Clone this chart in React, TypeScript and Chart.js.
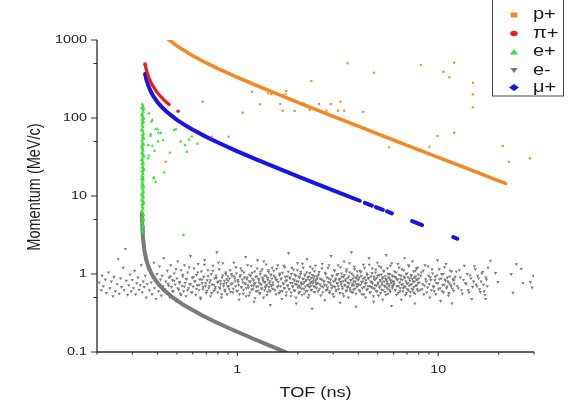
import React, { useEffect, useRef } from 'react';
import { Chart, registerables } from 'chart.js';
Chart.register(...registerables);

const X_TICKS = [0.2, 0.3, 0.4, 0.5, 0.6, 0.7, 0.8, 0.9, 1, 2, 3, 4, 5, 6, 7, 8, 9, 10, 20, 30];
const X_LABELS = [1, 10];
const Y_TICKS = [0.1, 0.5, 1, 5, 10, 50, 100, 500, 1000];
const Y_LABELS = [0.1, 1, 10, 100, 1000];
const X_TITLE = 'TOF (ns)';
const Y_TITLE = 'Momentum (MeV/c)';
const LEGEND_LABELS = ['p+', 'π+', 'e+', 'e-', 'μ+'];

const PROTON_LINE = [[0.45,1036],[0.5,840],[0.6,627],[0.7,508],[0.8,430],[1.0,332],[1.25,260],[1.5,214],[2,159],[2.5,126],[3,105],[4,78.5],[5,62.7],[7,44.7],[10,31.3],[13,24.1],[16,19.6],[19,16.5],[21.5,14.6]];
const PROTON_SCATTER = [[0.44,27.5],[0.671,162],[0.747,57.6],[0.905,57.6],[1.063,117],[1.148,292],[1.184,217],[1.299,150],[1.417,207],[1.474,203],[1.635,151],[1.684,124],[1.752,222],[1.738,201],[1.928,123],[2.138,154],[2.336,298],[2.291,127],[2.55,151],[2.777,124],[2.917,151],[3.263,162],[3.175,124],[3.401,124],[3.536,503],[4.232,120],[4.786,381],[5.706,42.1],[8.195,478],[10.63,392],[12.02,512],[11.35,332],[14.91,284],[14.87,201],[14.87,137],[12.02,64.8],[9.92,58.8],[9.05,42.9],[20.97,43.8],[22.46,27.5],[28.6,30.4],[21.8,14.3]];

const PION_LINE = [[0.347,486],[0.352,415],[0.36,344],[0.37,291],[0.38,256],[0.39,231],[0.4,211],[0.415,189],[0.43,172],[0.445,158],[0.457,149]];
const PION_SCATTER = [[0.347,490],[0.507,122]];

const MUON_MAIN = [[0.347,368],[0.352,314],[0.36,261],[0.37,220],[0.38,194],[0.4,160],[0.425,134],[0.45,117],[0.5,94.6],[0.55,80.6],[0.6,70.7],[0.7,57.3],[0.8,48.5],[1.0,37.4],[1.25,29.3],[1.5,24.1],[2,17.9],[2.5,14.2],[3,11.83],[3.5,10.1],[4.07,8.69]];
const MUON_DASHES = [
  [[4.315,8.17],[4.677,7.54]],
  [[4.898,7.2],[5.309,6.64]],
  [[5.559,6.34],[5.888,5.99]],
  [[7.413,4.76],[8.318,4.24]],
  [[11.89,2.97],[12.45,2.83]],
];

const ELECTRON_LINE = [[0.3348,6],[0.3363,4],[0.3384,3],[0.3443,2],[0.3524,1.5],[0.3626,1.2],[0.3746,1],[0.3958,0.8],[0.413,0.7],[0.4382,0.6],[0.477,0.5],[0.541,0.4],[0.659,0.3],[0.759,0.25],[0.9155,0.2],[1.1846,0.15],[1.459,0.12],[1.737,0.1]];

const POSITRON_COLUMN = [[0.336,150],[0.339,142],[0.335,135],[0.338,128],[0.34,120],[0.336,113],[0.337,106],[0.339,100],[0.335,95],[0.341,90],
[0.337,85],[0.336,80],[0.339,76],[0.335,72],[0.338,68],[0.34,64],[0.336,60],[0.337,57],[0.339,54],[0.335,51],
[0.338,48],[0.341,45],[0.336,42],[0.337,40],[0.339,38],[0.335,36],[0.338,34],[0.34,32],[0.336,30],[0.337,28.5],
[0.339,27],[0.335,25.5],[0.338,24],[0.341,22.5],[0.336,21],[0.337,20],[0.339,19],[0.335,18],[0.338,17],[0.34,16],
[0.336,15.2],[0.337,14.4],[0.339,13.6],[0.335,12.8],[0.338,12],[0.341,11.3],[0.336,10.7],[0.337,10.1],[0.339,9.5],[0.335,9],
[0.338,8.5],[0.34,8],[0.336,7.6],[0.337,7.2],[0.339,6.8],[0.335,6.4],[0.338,6],[0.341,5.7],[0.336,5.4],[0.337,5.1],
[0.339,4.8],[0.335,4.5],[0.338,4.2],[0.336,4],[0.34,3.8],[0.337,3.6],[0.339,3.4],
[0.338,46],[0.336,35],[0.34,26],[0.337,23],[0.339,17.5],[0.335,14],[0.338,11],[0.34,9.8],[0.336,8.8],[0.337,7.9],[0.34,62],[0.336,88],
[0.342,132],[0.334,110],[0.342,98],[0.334,70],[0.342,55],[0.334,43],[0.342,33],[0.334,29],[0.342,21.5],[0.334,16.5],[0.342,13],[0.334,10.4],[0.342,8.2],[0.334,6.2],[0.342,5]];
const POSITRON_SCATTER = [[0.363,115],[0.373,90],[0.377,94],[0.392,72],[0.399,72],[0.37,62],[0.404,65],[0.415,64],[0.37,59],[0.427,52],[0.403,50],[0.36,45],[0.377,44],[0.484,70],[0.494,72],[0.523,50],[0.548,45],[0.575,53],[0.594,58],[0.633,47],[0.561,37],[0.363,33],[0.432,20],[0.382,17.2],[0.392,15.2],[0.539,3.16],[0.461,36],[0.387,38],[0.36,30.4],[0.385,16.9]];

const GRAY_A = [[0.205,0.78],[0.21,0.62],[0.212,0.95],[0.215,0.7],[0.22,0.85],[0.223,0.57],[0.228,1.05],[0.232,0.66],[0.236,0.8],[0.24,0.52],
[0.243,0.92],[0.247,0.6],[0.252,0.74],[0.255,1.55],[0.258,0.56],[0.262,0.88],[0.265,0.68],[0.27,1.2],[0.273,0.62],[0.277,2.1],
[0.28,0.82],[0.284,0.54],[0.288,0.72],[0.292,0.98],[0.296,0.6],[0.3,0.84],[0.304,0.66],[0.308,1.1],[0.312,0.55],[0.316,0.76],
[0.32,0.9],[0.324,0.63],[0.328,0.72],[0.332,1.3],[0.336,0.58],[0.34,0.8],[0.344,0.68],[0.348,0.95],[0.352,0.5],[0.356,0.74],[0.36,1.15]];
const GRAY_B = [[0.365,0.62],[0.368,1.05],[0.372,0.78],[0.376,0.55],[0.38,0.9],[0.384,1.4],[0.387,0.66],[0.39,0.82],[0.394,0.48],[0.398,1.0],
[0.402,0.72],[0.405,0.6],[0.41,1.25],[0.414,0.85],[0.418,0.53],[0.422,0.95],[0.426,0.7],[0.43,1.6],[0.435,0.64],[0.44,0.8],
[0.444,0.57],[0.448,1.1],[0.452,0.75],[0.457,0.9],[0.461,0.5],[0.466,1.3],[0.47,0.68],[0.475,0.83],[0.48,0.6],[0.485,1.02],
[0.49,0.73],[0.495,0.45],[0.5,0.88],[0.505,1.45],[0.51,0.63],[0.515,0.79],[0.52,0.56],[0.525,1.12],[0.53,0.7],[0.535,0.93],
[0.54,0.6],[0.545,1.3],[0.55,0.77],[0.555,0.52],[0.56,0.86],[0.566,1.05],[0.572,0.66],[0.578,0.74],[0.584,1.7],[0.59,0.58],
[0.596,0.9],[0.602,0.69],[0.608,1.18],[0.614,0.81],[0.62,0.54],[0.626,0.97],[0.632,0.72],[0.638,1.35],[0.644,0.62],[0.65,0.85],
[0.656,0.48],[0.662,1.08],[0.668,0.76],[0.674,0.64],[0.68,0.92],[0.687,1.5],[0.694,0.7],[0.7,0.57],[0.707,0.83],[0.714,1.12],
[0.721,0.66],[0.728,0.78],[0.735,0.52],[0.742,1.0],[0.749,0.73],[0.756,1.28],[0.763,0.61],[0.77,0.88],[0.777,0.68],[0.784,0.95],
[0.791,1.9],[0.798,0.58],[0.805,0.8],[0.812,1.15],[0.819,0.65],[0.826,0.74],[0.833,0.5],[0.84,0.9],[0.847,1.38],[0.854,0.7],
[0.861,0.82],[0.868,0.6],[0.875,1.05],[0.882,0.77],[0.889,0.55],[0.896,0.94]];
const GRAY_C1 = [[0.90,0.82],[0.91,0.64],[0.92,1.12],[0.93,0.74],[0.94,0.95],[0.95,0.58],[0.96,1.4],[0.97,0.88],[0.98,0.7],[0.99,1.02],
[1.00,0.61],[1.01,0.79],[1.02,0.47],[1.03,0.92],[1.04,1.18],[1.05,0.68],[1.06,0.85],[1.07,0.56],[1.08,1.05],[1.09,0.76],
[1.10,1.65],[1.11,0.66],[1.12,0.9],[1.13,0.72],[1.14,0.53],[1.15,0.98],[1.16,0.8],[1.17,1.26],[1.18,0.63],[1.19,0.87],
[1.20,0.71],[1.21,0.44],[1.22,1.08],[1.23,0.77],[1.24,0.6],[1.25,0.93],[1.26,1.5],[1.27,0.69],[1.28,0.83],[1.29,0.57],
[1.30,1.0],[1.31,0.74],[1.32,0.65],[1.33,1.15],[1.34,0.86],[1.35,0.5],[1.36,0.79],[1.37,0.96],[1.38,0.67],[1.39,1.33],
[1.40,0.73],[1.41,0.59],[1.42,0.89],[1.43,1.06],[1.44,0.62],[1.45,0.81],[1.46,0.4],[1.47,0.97],[1.48,0.7],[1.49,1.2]];
const GRAY_C2 = [[1.5,0.78],[1.515,1.1],[1.53,0.63],[1.545,0.9],[1.56,0.55],[1.575,0.84],[1.59,1.3],[1.605,0.71],[1.62,0.97],[1.635,0.6],
[1.65,0.86],[1.665,0.48],[1.68,1.04],[1.695,0.75],[1.71,0.66],[1.725,1.22],[1.74,0.81],[1.755,0.58],[1.77,0.93],[1.785,0.7],
[1.8,1.85],[1.815,0.64],[1.83,0.88],[1.845,0.52],[1.86,1.0],[1.875,0.77],[1.89,0.69],[1.905,1.14],[1.92,0.83],[1.935,0.61],
[1.95,0.95],[1.965,0.42],[1.98,0.73],[1.995,1.38],[2.01,0.8],[2.025,0.57],[2.04,0.9],[2.055,0.67],[2.07,1.07],[2.085,0.74],
[2.1,0.54],[2.115,0.87],[2.13,1.2],[2.145,0.65],[2.16,0.79],[2.175,0.99],[2.19,0.6],[2.205,0.84],[2.22,1.55],[2.235,0.72],
[2.25,0.5],[2.265,0.92],[2.28,0.68],[2.295,1.03],[2.31,0.76],[2.325,0.62],[2.34,0.89],[2.355,0.36],[2.37,1.17],[2.385,0.81],
[2.4,0.7],[2.415,0.94],[2.43,0.59],[2.445,1.28],[2.46,0.78],[2.475,0.66],[2.49,0.86]];
const GRAY_C3 = [[2.5,0.91],[2.525,0.6],[2.55,1.06],[2.575,0.74],[2.6,0.53],[2.625,0.85],[2.65,1.35],[2.675,0.68],[2.7,0.8],[2.725,0.46],
[2.75,1.0],[2.775,0.72],[2.8,0.63],[2.825,1.2],[2.85,0.88],[2.875,0.57],[2.9,0.77],[2.925,1.7],[2.95,0.66],[2.975,0.94],
[3.0,0.7],[3.025,0.51],[3.05,1.1],[3.075,0.83],[3.1,0.6],[3.125,0.98],[3.15,0.75],[3.175,1.3],[3.2,0.64],[3.225,0.87],
[3.25,0.43],[3.275,0.79],[3.3,1.02],[3.325,0.69],[3.35,0.56],[3.375,0.92],[3.4,1.45],[3.425,0.73],[3.45,0.82],[3.475,0.61],
[3.5,1.15],[3.525,0.67],[3.55,0.89],[3.575,0.5],[3.6,0.76],[3.625,1.05],[3.65,0.62],[3.675,0.84],[3.7,1.9],[3.725,0.71],
[3.75,0.58],[3.775,0.96],[3.8,0.8],[3.825,1.24],[3.85,0.65],[3.875,0.9],[3.9,0.38],[3.925,0.74],[3.95,1.08],[3.975,0.86]];
const GRAY_C4 = [[4.0,0.84],[4.035,0.62],[4.07,1.1],[4.105,0.73],[4.14,0.95],[4.175,0.55],[4.21,0.8],[4.245,1.32],[4.28,0.68],[4.315,0.9],
[4.35,0.5],[4.385,0.77],[4.42,1.02],[4.455,0.64],[4.49,0.87],[4.525,1.6],[4.56,0.7],[4.595,0.58],[4.63,0.93],[4.665,0.79],
[4.7,1.18],[4.735,0.66],[4.77,0.44],[4.805,0.85],[4.84,0.72],[4.875,1.05],[4.91,0.6],[4.945,0.89],[4.98,1.4],[5.015,0.75],
[5.05,0.53],[5.085,0.97],[5.12,0.69],[5.155,0.82],[5.19,1.22],[5.225,0.63],[5.26,0.78],[5.295,0.47],[5.33,0.91],[5.365,1.08],
[5.4,0.71],[5.435,0.59],[5.47,0.86],[5.505,1.75],[5.54,0.67],[5.575,0.8],[5.61,0.56],[5.645,1.0],[5.68,0.74],[5.715,0.88],
[5.75,0.62],[5.785,1.28],[5.82,0.83],[5.855,0.39],[5.89,0.96],[5.925,0.7],[5.96,0.81]];
const GRAY_C5 = [[6.0,0.79],[6.05,1.08],[6.1,0.63],[6.15,0.9],[6.2,0.54],[6.25,0.84],[6.3,1.35],[6.35,0.7],[6.4,0.98],[6.45,0.6],
[6.5,0.86],[6.55,0.47],[6.6,1.15],[6.65,0.74],[6.7,0.66],[6.75,0.92],[6.8,1.6],[6.85,0.68],[6.9,0.81],[6.95,0.57],
[7.0,1.02],[7.05,0.76],[7.1,0.62],[7.15,1.25],[7.2,0.88],[7.25,0.52],[7.3,0.73],[7.35,0.95],[7.4,0.65],[7.45,1.45],
[7.5,0.8],[7.55,0.58],[7.6,0.9],[7.65,0.42],[7.7,1.1],[7.75,0.71],[7.8,0.85],[7.85,0.64],[7.9,1.2],[7.95,0.77]];
const GRAY_D = [[8.0,0.88],[8.12,0.62],[8.24,1.05],[8.36,0.74],[8.48,0.55],[8.6,1.3],[8.72,0.8],[8.84,0.67],[8.96,0.95],[9.08,0.5],
[9.2,0.84],[9.32,1.15],[9.44,0.7],[9.56,0.6],[9.68,0.92],[9.8,0.77],[9.92,1.5],[10.04,0.64],[10.16,0.86],[10.28,0.45],
[10.4,1.0],[10.52,0.72],[10.64,0.58],[10.76,1.22],[10.88,0.82],[11.0,0.66],[11.12,0.9],[11.24,0.53],[11.36,0.76],[11.48,1.1],
[11.6,0.69],[11.72,0.42],[11.84,0.85],[11.96,0.61],
[12.0,0.83],[12.3,1.08],[12.6,0.66],[12.9,0.9],[13.2,0.56],[13.5,1.28],[13.8,0.75],[14.1,0.62],[14.4,0.96],[14.7,0.48],
[15.0,0.8],[15.3,1.15],[15.6,0.7],[15.9,0.88],[16.2,0.59],[16.5,1.02],[16.8,0.73],[17.1,0.54],[17.4,0.85],[17.7,1.2]];
const GRAY_E = [[17.2,0.48],[18.2,1.48],[19.3,1.03],[19.8,0.79],[23.1,1.0],[23.6,0.575],[24.5,1.34],[25.9,1.16],[26.4,0.77],[28.8,0.79],[29.4,0.67],[29.8,0.95]];

// second layer of the e- cloud (core of the band), TOF values and momenta
const CORE_T = [
0.455,0.465,0.475,0.485,0.495,0.505,0.515,0.525,0.535,0.545,0.555,0.565,0.575,0.585,0.595,0.605,0.615,0.625,0.635,0.645,0.655,0.665,0.675,0.685,0.695,0.705,0.715,0.725,0.735,0.745,0.755,0.765,0.775,0.785,0.795,0.805,0.815,0.825,0.835,0.845,0.855,0.865,0.875,0.885,0.895,
0.905,0.915,0.925,0.935,0.945,0.955,0.965,0.975,0.985,0.995,1.005,1.015,1.025,1.035,1.045,1.055,1.065,1.075,1.085,1.095,1.105,1.115,1.125,1.135,1.145,1.155,1.165,1.175,1.185,1.195,1.205,1.215,1.225,1.235,1.245,1.255,1.265,1.275,1.285,1.295,1.305,1.315,1.325,1.335,1.345,1.355,1.365,1.375,1.385,1.395,1.405,1.415,1.425,1.435,1.445,1.455,1.465,1.475,1.485,1.495,
1.508,1.523,1.538,1.553,1.568,1.583,1.598,1.613,1.628,1.643,1.658,1.673,1.688,1.703,1.718,1.733,1.748,1.763,1.778,1.793,1.808,1.823,1.838,1.853,1.868,1.883,1.898,1.913,1.928,1.943,1.958,1.973,1.988,2.003,2.018,2.033,2.048,2.063,2.078,2.093,2.108,2.123,2.138,2.153,2.168,2.183,2.198,2.213,2.228,2.243,2.258,2.273,2.288,2.303,2.318,2.333,2.348,2.363,2.378,2.393,2.408,2.423,2.438,2.453,2.468,2.483,
2.512,2.537,2.562,2.587,2.612,2.637,2.662,2.687,2.712,2.737,2.762,2.787,2.812,2.837,2.862,2.887,2.912,2.937,2.962,2.987,3.012,3.037,3.062,3.087,3.112,3.137,3.162,3.187,3.212,3.237,3.262,3.287,3.312,3.337,3.362,3.387,3.412,3.437,3.462,3.487,3.512,3.537,3.562,3.587,3.612,3.637,3.662,3.687,3.712,3.737,3.762,3.787,3.812,3.837,3.862,3.887,3.912,3.937,3.962,3.987,
4.017,4.052,4.087,4.122,4.157,4.192,4.227,4.262,4.297,4.332,4.367,4.402,4.437,4.472,4.507,4.542,4.577,4.612,4.647,4.682,4.717,4.752,4.787,4.822,4.857,4.892,4.927,4.962,4.997,5.032,5.067,5.102,5.137,5.172,5.207,5.242,5.277,5.312,5.347,5.382,5.417,5.452,5.487,5.522,5.557,5.592,5.627,5.662,5.697,5.732,5.767,5.802,5.837,5.872,5.907,5.942,5.977,
6.025,6.075,6.125,6.175,6.225,6.275,6.325,6.375,6.425,6.475,6.525,6.575,6.625,6.675,6.725,6.775,6.825,6.875,6.925,6.975,7.025,7.075,7.125,7.175,7.225,7.275,7.325,7.375,7.425,7.475,7.525,7.575,7.625,7.675,7.725,7.775,7.825,7.875,7.925,7.975,
8.06,8.18,8.3,8.42,8.54,8.66,8.78,8.9,9.02,9.14,9.26,9.38,9.5,9.62,9.74,9.86,9.98,10.1,10.22,10.34,10.46,10.58,10.7,10.82,10.94,11.06,11.18,11.3,11.42,11.54,11.66,11.78,11.9,12.02,
12.15,12.45,12.75,13.05,13.35,13.65,13.95,14.25,14.55,14.85,15.15,15.45,15.75,16.05,16.35,16.65,16.95,17.25,17.55];
const CORE_P = [
0.71,0.93,0.6,0.82,1.15,0.66,0.77,0.54,0.98,0.69,0.87,0.62,1.22,0.74,0.58,0.91,0.8,0.65,1.05,0.72,0.5,0.85,0.68,1.32,0.76,0.61,0.94,0.7,0.83,0.57,1.1,0.73,0.64,0.89,0.78,1.4,0.67,0.81,0.55,0.96,0.75,0.63,1.0,0.86,0.69,
0.7,0.88,0.59,1.0,0.76,0.65,0.93,0.81,1.22,0.6,0.84,0.72,0.55,0.97,0.68,1.1,0.78,0.63,0.9,0.74,0.52,0.86,1.3,0.67,0.8,0.58,0.95,0.71,1.04,0.64,0.83,0.75,0.49,0.92,0.69,1.18,0.61,0.87,0.77,0.56,1.08,0.73,0.66,0.9,0.82,1.45,0.62,0.79,0.7,0.94,0.54,0.85,1.12,0.68,0.76,0.6,0.99,0.72,0.87,0.65,
0.73,0.95,0.62,0.85,1.16,0.68,0.79,0.57,1.02,0.7,0.88,0.6,0.76,1.28,0.66,0.92,0.53,0.83,0.72,1.07,0.64,0.9,0.77,0.58,1.2,0.69,0.86,0.62,0.98,0.74,0.5,0.81,1.12,0.67,0.93,0.71,0.59,1.0,0.78,0.65,1.36,0.75,0.87,0.56,0.96,0.69,0.82,1.05,0.61,0.9,0.73,0.54,0.84,1.24,0.7,0.79,0.63,0.97,0.76,0.88,0.59,1.09,0.68,0.83,0.74,0.94,
0.76,0.98,0.64,0.87,0.7,1.18,0.58,0.82,0.73,1.04,0.62,0.9,0.67,0.79,1.3,0.6,0.85,0.72,0.95,0.55,0.8,1.12,0.68,0.88,0.63,0.77,1.0,0.7,0.84,0.57,1.22,0.74,0.92,0.65,0.81,0.52,0.97,0.71,0.86,1.08,0.61,0.78,0.69,0.93,1.38,0.66,0.83,0.59,1.01,0.75,0.88,0.63,0.72,1.15,0.8,0.56,0.9,0.68,0.96,0.74,
0.72,0.91,0.6,1.06,0.79,0.66,0.87,0.55,1.2,0.75,0.83,0.63,0.97,0.7,0.89,1.32,0.58,0.8,0.68,1.03,0.76,0.52,0.92,0.65,0.85,1.14,0.71,0.6,0.95,0.78,1.26,0.67,0.84,0.57,0.99,0.73,0.88,0.62,1.1,0.8,0.69,0.94,0.54,0.86,0.75,1.18,0.64,0.9,0.7,1.0,0.59,0.82,0.77,1.38,0.66,0.93,0.72,
0.75,0.92,0.62,1.05,0.7,0.86,0.57,1.2,0.78,0.66,0.95,0.73,0.84,0.6,1.12,0.69,0.89,0.54,1.0,0.76,0.64,0.91,1.3,0.71,0.82,0.59,0.97,0.74,0.87,0.63,1.08,0.68,0.8,0.56,0.93,1.18,0.72,0.85,0.61,0.99,
0.78,0.95,0.64,1.1,0.71,0.86,0.58,1.25,0.74,0.9,0.62,1.02,0.68,0.83,0.55,0.96,0.76,1.15,0.66,0.88,0.6,1.0,0.73,0.85,1.35,0.69,0.8,0.57,0.93,0.72,1.08,0.65,0.87,0.75,
0.92,0.7,1.12,0.62,0.84,0.76,1.0,0.58,0.88,0.68,1.25,0.73,0.95,0.64,0.8,1.06,0.6,0.9,0.7];

const ORANGE = '#F5871F';
const RED = '#EE1B1B';
const GREEN = '#35E035';
const GRAY = '#7A7A7A';
const BLUE = '#1515E8';
const INK = '#1c1c1c';
const SX = 1.25;
const FONT = '"Liberation Sans", Arial, sans-serif';

const xy = (arr: number[][]) => arr.map((p) => ({ x: p[0], y: p[1] }));
const zip = (t: number[], p: number[]) => t.map((v, i) => ({ x: v, y: p[i] }));
const withGaps = (main: number[][], dashes: number[][][]) => {
  const out: any[] = xy(main);
  dashes.forEach((seg) => {
    out.push({ x: seg[0][0], y: null });
    out.push(...xy(seg));
  });
  return out;
};

function txt(ctx: CanvasRenderingContext2D, s: string, x: number, y: number, size: number, align: CanvasTextAlign, rot = false) {
  ctx.save();
  ctx.translate(x, y);
  ctx.scale(SX, 1);
  if (rot) ctx.rotate(-Math.PI / 2);
  ctx.font = `${size}px ${FONT}`;
  ctx.textAlign = align;
  ctx.textBaseline = 'middle';
  ctx.fillStyle = INK;
  ctx.fillText(s, 0, 0);
  ctx.restore();
}

const axesPlugin = {
  id: 'originAxes',
  afterDraw(chart: any) {
    const { ctx, chartArea } = chart;
    const { left, right, top, bottom } = chartArea;
    const xs = chart.scales.x;
    const ys = chart.scales.y;
    ctx.save();
    ctx.strokeStyle = '#2a2a2a';
    ctx.lineWidth = 1.3;
    ctx.beginPath();
    ctx.moveTo(left, top);
    ctx.lineTo(left, bottom);
    ctx.lineTo(right, bottom);
    ctx.stroke();
    ctx.lineWidth = 1;
    X_TICKS.forEach((t) => {
      const px = xs.getPixelForValue(t);
      const len = X_LABELS.includes(t) ? 4 : 2.5;
      ctx.beginPath();
      ctx.moveTo(px, bottom);
      ctx.lineTo(px, bottom + len);
      ctx.stroke();
    });
    Y_TICKS.forEach((v) => {
      const py = ys.getPixelForValue(v);
      const len = Y_LABELS.includes(v) ? 6 : 3.5;
      ctx.beginPath();
      ctx.moveTo(left, py);
      ctx.lineTo(left - len, py);
      ctx.stroke();
    });
    X_LABELS.forEach((t) => txt(ctx, String(t), xs.getPixelForValue(t), bottom + 18, 11.5, 'center'));
    Y_LABELS.forEach((v) => txt(ctx, String(v), left - 10, ys.getPixelForValue(v), 11.5, 'right'));
    txt(ctx, X_TITLE, (left + right) / 2, 393, 14.5, 'center');
    txt(ctx, Y_TITLE, 35, 187, 14.5, 'center', true);

    const bx = 492, bw = 72, bh = 97;
    ctx.fillStyle = '#ffffff';
    ctx.fillRect(bx, -1, bw, bh);
    ctx.strokeStyle = '#444';
    ctx.lineWidth = 1;
    ctx.strokeRect(bx + 0.5, -1, bw - 1, bh);
    const rows = [15, 33.5, 52, 70.5, 87.5];
    const mx = 514;
    ctx.fillStyle = ORANGE;
    ctx.fillRect(mx - 3.3, rows[0] - 2.5, 6.6, 5);
    ctx.fillStyle = RED;
    ctx.beginPath();
    ctx.ellipse(mx, rows[1], 3.7, 2.8, 0, 0, Math.PI * 2);
    ctx.fill();
    ctx.fillStyle = GREEN;
    ctx.beginPath();
    ctx.moveTo(mx - 4.2, rows[2] + 2.6);
    ctx.lineTo(mx + 4.2, rows[2] + 2.6);
    ctx.lineTo(mx, rows[2] - 2.8);
    ctx.closePath();
    ctx.fill();
    ctx.fillStyle = GRAY;
    ctx.beginPath();
    ctx.moveTo(mx - 3.8, rows[3] - 2.6);
    ctx.lineTo(mx + 3.8, rows[3] - 2.6);
    ctx.lineTo(mx, rows[3] + 2.6);
    ctx.closePath();
    ctx.fill();
    ctx.fillStyle = BLUE;
    ctx.beginPath();
    ctx.moveTo(mx - 5, rows[4]);
    ctx.lineTo(mx, rows[4] - 3.4);
    ctx.lineTo(mx + 5, rows[4]);
    ctx.lineTo(mx, rows[4] + 3.4);
    ctx.closePath();
    ctx.fill();
    LEGEND_LABELS.forEach((l, i) => txt(ctx, l, 533, rows[i], 16, 'left'));
    ctx.restore();
  },
};

export default function App() {
  const ref = useRef<HTMLCanvasElement>(null);
  useEffect(() => {
    const gray = [...xy([...GRAY_A, ...GRAY_B, ...GRAY_C1, ...GRAY_C2, ...GRAY_C3, ...GRAY_C4, ...GRAY_C5, ...GRAY_D, ...GRAY_E]), ...zip(CORE_T, CORE_P)];
    const lineDs = (label: string, data: any[], color: string, width: number) => ({
      label, data, showLine: true, borderColor: color, backgroundColor: color, borderWidth: width,
      pointRadius: 0, spanGaps: false, clip: 0, borderJoinStyle: 'round', borderCapStyle: 'round',
    });
    const ptDs = (label: string, data: any[], color: string, style: string, radius: number, rotation = 0) => ({
      label, data, showLine: false, backgroundColor: color, borderColor: color, borderWidth: 0,
      pointStyle: style, pointRadius: radius, pointRotation: rotation, clip: 0,
    });
    const chart = new Chart(ref.current as HTMLCanvasElement, {
      type: 'scatter',
      data: {
        datasets: [
          ptDs('p+ scatter', xy(PROTON_SCATTER), ORANGE, 'rect', 1.5),
          lineDs('p+', xy(PROTON_LINE), ORANGE, 3.5),
          ptDs('π+ points', xy(PION_SCATTER), RED, 'circle', 1.8),
          lineDs('π+', xy(PION_LINE), RED, 3.2),
          lineDs('μ+', withGaps(MUON_MAIN, MUON_DASHES), BLUE, 4),
          ptDs('e+ scatter', xy(POSITRON_SCATTER), GREEN, 'triangle', 1.9),
          ptDs('e+', xy(POSITRON_COLUMN), GREEN, 'triangle', 2.1),
          lineDs('e- curve', xy(ELECTRON_LINE), GRAY, 4),
          ptDs('e-', gray, GRAY, 'triangle', 1.9, 180),
        ] as any,
      },
      options: {
        animation: false,
        responsive: false,
        events: [],
        layout: { padding: { left: 97, right: 35, top: 40, bottom: 52 } },
        scales: {
          x: { type: 'logarithmic', min: 0.2, max: 30, display: false },
          y: { type: 'logarithmic', min: 0.1, max: 1000, display: false },
        },
        plugins: { legend: { display: false }, tooltip: { enabled: false } },
      } as any,
      plugins: [axesPlugin],
    });
    return () => chart.destroy();
  }, []);
  return (
    <div style={{ position: 'fixed', left: 0, top: 0, width: 569, height: 404, background: '#fff' }}>
      <canvas ref={ref} width={569} height={404} style={{ display: 'block', width: 569, height: 404 }} />
    </div>
  );
}
